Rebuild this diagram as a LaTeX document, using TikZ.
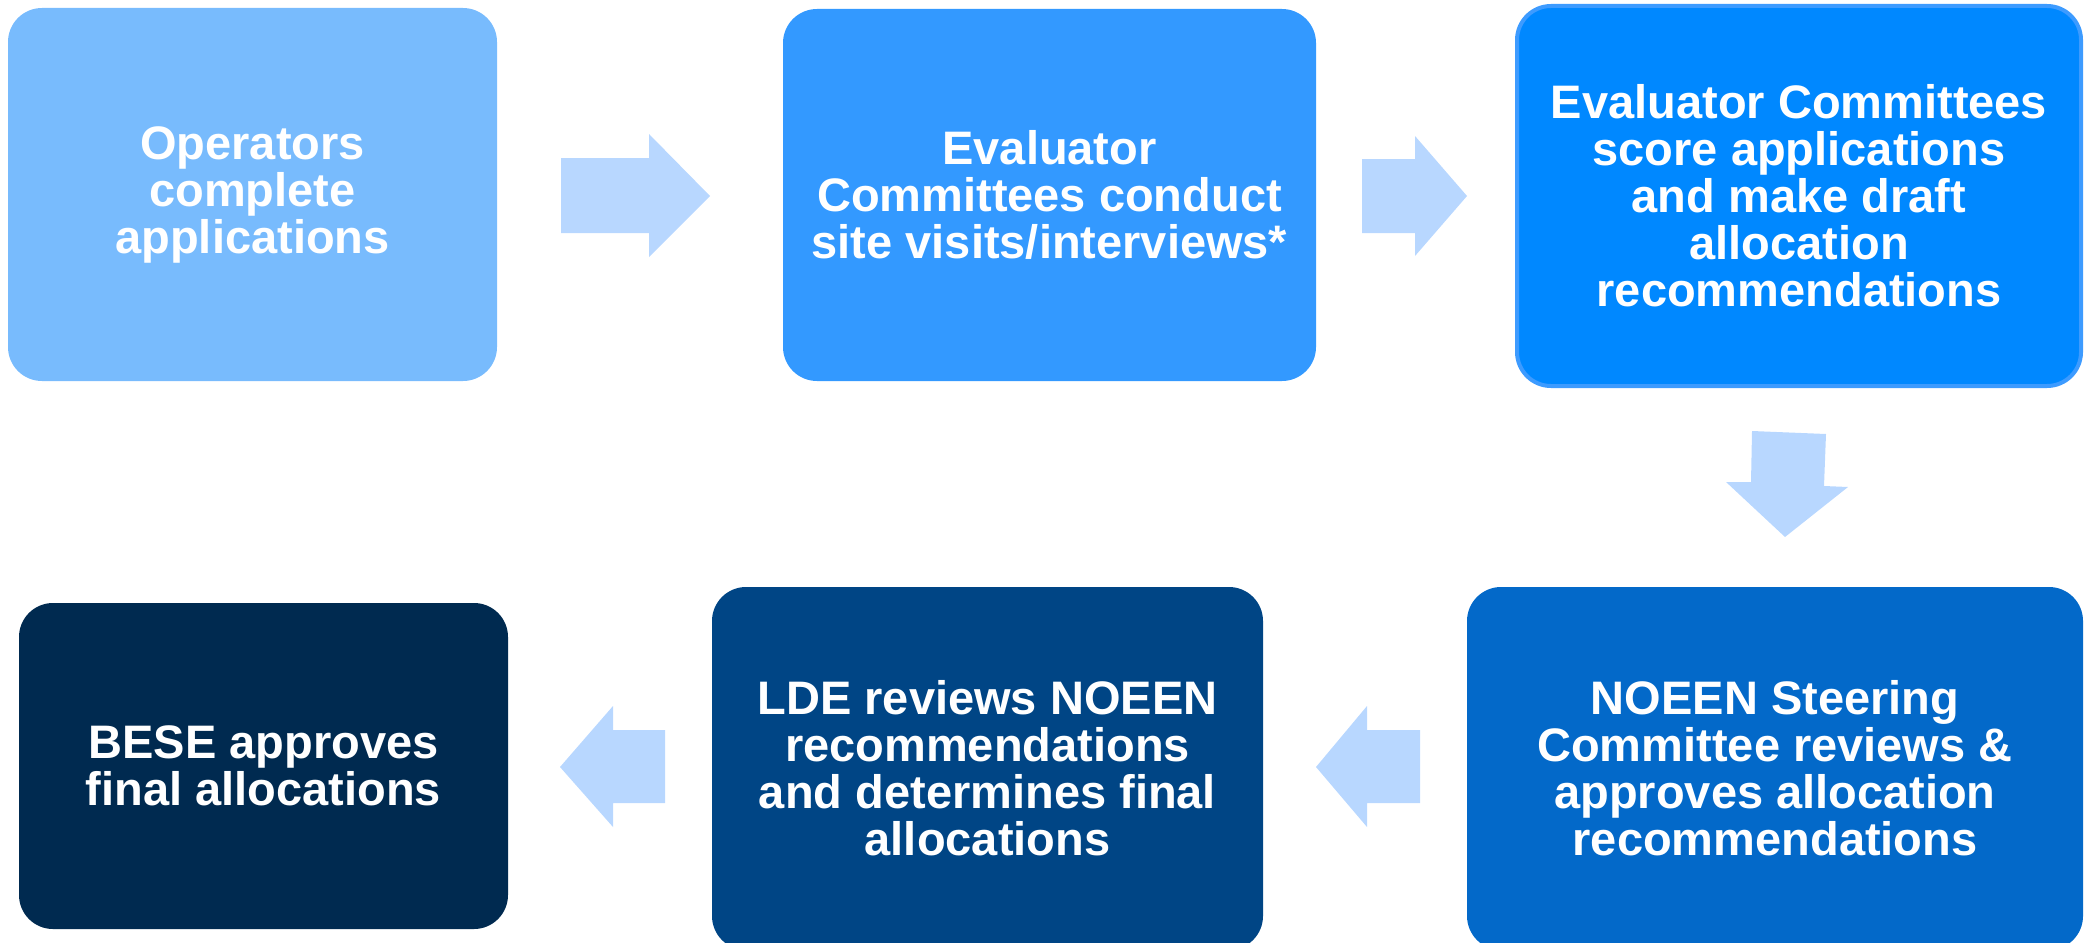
\documentclass[tikz,border=0pt]{standalone}
\usepackage{fontspec}
\setmainfont{Liberation Sans}
\definecolor{cA}{RGB}{120,187,253}
\definecolor{cB}{RGB}{51,153,255}
\definecolor{cC}{RGB}{0,136,255}
\definecolor{cCb}{RGB}{61,155,255}
\definecolor{cD}{RGB}{3,105,201}
\definecolor{cE}{RGB}{0,69,133}
\definecolor{cF}{RGB}{0,42,80}
\definecolor{arr}{RGB}{184,215,255}
\begin{document}
\begin{tikzpicture}[x=1pt,y=-1pt,
  box/.style={rectangle,rounded corners=34pt,inner sep=0pt,outer sep=0pt,align=center,
    text=white,font=\fontsize{47}{47}\selectfont\bfseries},
  blockarrow/.style={fill=arr,draw=none}]
\useasboundingbox (0,0) rectangle (2084,942);
% process boxes
\node[box,fill=cA,minimum width=489pt,minimum height=373pt] (b1) at (252.5,194.5)
  {Operators\\complete\\applications};
\node[box,fill=cB,minimum width=533pt,minimum height=372pt] (b2) at (1049.5,195)
  {Evaluator\\Committees conduct\\site visits/interviews*};
\node[box,fill=cC,draw=cCb,line width=4pt,minimum width=564pt,minimum height=380pt] (b3) at (1799,196)
  {Evaluator Committees\\score applications\\and make draft\\allocation\\recommendations};
\node[box,fill=cD,minimum width=616pt,minimum height=363pt] (b4) at (1775,768.5)
  {NOEEN Steering\\Committee reviews \&\\approves allocation\\recommendations};
\node[box,fill=cE,minimum width=551pt,minimum height=363pt] (b5) at (987.5,768.5)
  {LDE reviews NOEEN\\recommendations\\and determines final\\allocations};
\node[box,fill=cF,minimum width=489pt,minimum height=326pt] (b6) at (263.5,766)
  {BESE approves\\final allocations};
% block arrows between the boxes
\fill[blockarrow] (561,158) -- (649,158) -- (649,134) -- (710,196) -- (649,257) -- (649,233) -- (561,233) -- cycle;
\fill[blockarrow] (1362,159) -- (1415,159) -- (1415,136) -- (1467,196) -- (1415,256) -- (1415,233) -- (1362,233) -- cycle;
\fill[blockarrow] (1752,431) -- (1826,434) -- (1824,486) -- (1848,487) -- (1785,537) -- (1726,482) -- (1751,482) -- cycle;
\fill[blockarrow] (1420,730) -- (1367,730) -- (1367,706) -- (1316,767) -- (1367,827) -- (1367,803) -- (1420,803) -- cycle;
\fill[blockarrow] (665,730) -- (613,730) -- (613,706) -- (560,767) -- (613,827) -- (613,803) -- (665,803) -- cycle;
\end{tikzpicture}
\end{document}
